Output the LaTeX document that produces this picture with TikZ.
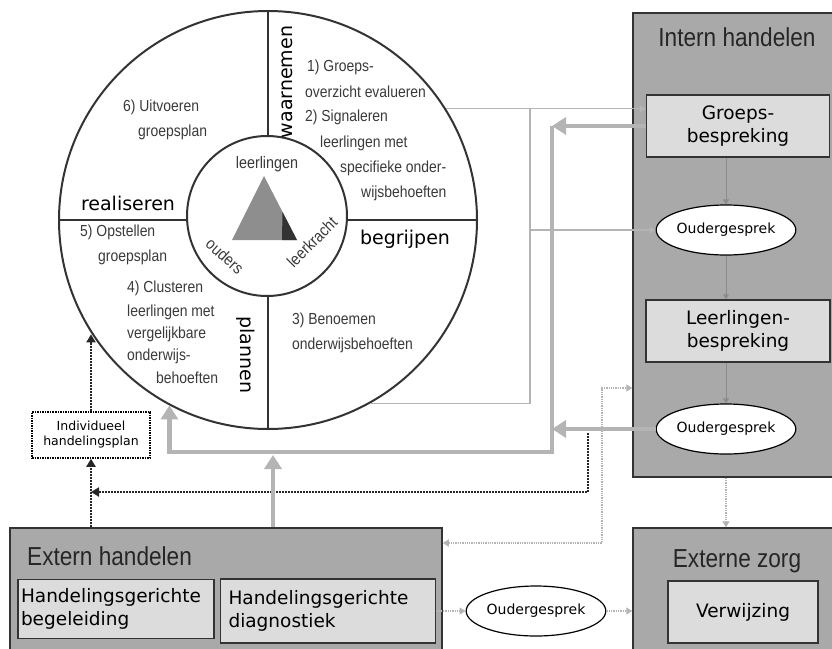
\documentclass[tikz,border=0pt]{standalone}
\usepackage{fontspec}
\setmainfont{Liberation Sans}
\newfontfamily\comic{DejaVu Sans}
\newfontfamily\narrow[FakeStretch=0.87]{Liberation Sans}
\usepackage{tikz}
\usetikzlibrary{shapes.geometric,arrows.meta}
\definecolor{panelgrey}{HTML}{A9A9A9}
\definecolor{boxgrey}{HTML}{DCDCDC}
\definecolor{linegrey}{HTML}{333333}
\definecolor{textgrey}{HTML}{3A3A3A}
\definecolor{flowgrey}{HTML}{B4B4B4}
\definecolor{innergrey}{HTML}{8C8C8C}
\definecolor{trigrey}{HTML}{8E8E8E}

\tikzset{
  panel/.style={draw=linegrey,fill=panelgrey,line width=1.5pt,inner sep=0pt},
  head/.style={inner sep=0pt,text=black!85,font=\narrow\fontsize{26}{30}\selectfont},
  subbox/.style={draw=linegrey,fill=boxgrey,line width=1.5pt,align=center,inner sep=0pt,
    font=\comic\fontsize{18.5}{23}\selectfont},
  talk/.style={ellipse,draw=black,fill=white,line width=1.2pt,inner sep=0pt,
    minimum width=125pt,minimum height=50pt,font=\comic\fontsize{14}{16}\selectfont},
  plan/.style={draw=black,densely dotted,line width=1.5pt,fill=white,align=center,inner sep=0pt,
    minimum width=118pt,minimum height=46pt,font=\comic\fontsize{12.5}{15}\selectfont},
  quad/.style={anchor=west,inner sep=0pt,text=textgrey,font=\narrow\fontsize{16}{18}\selectfont},
  phase/.style={inner sep=0pt,font=\comic\fontsize{19}{21}\selectfont},
  hubtext/.style={inner sep=0pt,text=textgrey,font=\narrow\fontsize{16.5}{18}\selectfont},
  thinflow/.style={draw=flowgrey,line width=1.2pt},
  tiparrow/.style={-{Triangle[width=7pt,length=6pt]}},
  innerflow/.style={draw=innergrey,line width=1pt,-{Triangle[width=6pt,length=5pt]}},
  thickflow/.style={draw=flowgrey,line width=4.5pt},
  bigarrow/.style={-{Triangle[width=17pt,length=14pt]}},
  darkdot/.style={draw=black!85,line width=2pt,densely dotted},
  darktip/.style={-{Triangle[width=9pt,length=8pt]}},
  lightdot/.style={draw=flowgrey,line width=1.3pt,densely dotted}
}

\begin{document}
\begin{tikzpicture}[x=1pt,y=-1pt]
\useasboundingbox (0,0) rectangle (832,648);
\clip (0,0) rectangle (832,648);

% panels
\node[panel,minimum width=212pt,minimum height=464pt] (intern) at (739,245) {};
\node[panel,minimum width=212pt,minimum height=142pt] (zorg) at (739,599) {};
\node[panel,minimum width=432pt,minimum height=142pt] (extern) at (226,599) {};
\node[head] (interntitle) at (737,37) {Intern handelen};
\node[head] (zorgtitle) at (737,561) {Externe zorg};
\node[head,anchor=west] (externtitle) at (27,556) {Extern handelen};

% boxes
\node[subbox,minimum width=183pt,minimum height=62pt] (groeps) at (738,126) {Groeps-\\bespreking};
\node[subbox,minimum width=184pt,minimum height=62pt] (llbespr) at (738,331) {Leerlingen-\\bespreking};
\node[subbox,minimum width=150pt,minimum height=62pt] (verwijz) at (743,612) {Verwijzing};
\node[subbox,align=left,text width=190pt,inner xsep=3pt,minimum height=59pt] (begel) at (116,609) {Handelingsgerichte\\begeleiding};
\node[subbox,align=left,text width=199pt,inner xsep=8pt,minimum height=64pt] (diag) at (328,611) {Handelingsgerichte\\diagnostiek};

\node[talk] (ouder1) at (726,230) {Oudergesprek};
\node[talk] (ouder2) at (726,429) {Oudergesprek};
\node[talk,minimum width=115pt] (ouder3) at (536,611) {Oudergesprek};
\node[plan] (indiv) at (91,435) {Individueel\\handelingsplan};

% wheel
\node[circle,draw=linegrey,fill=white,line width=2pt,minimum size=418pt,inner sep=0pt] (wheel) at (268,220) {};
\draw[linegrey,line width=2pt] (wheel.north) -- (wheel.south) (wheel.west) -- (wheel.east);
\node[circle,draw=linegrey,fill=white,line width=2pt,minimum size=160pt,inner sep=0pt] (hub) at (267,216) {};
\fill[trigrey] (264,176) -- (297,240) -- (232,240) -- cycle;
\fill[linegrey] (282.5,212) -- (297,240) -- (282,240) -- cycle;
\node[hubtext] (leerl) at (267,164) {leerlingen};
\node[hubtext,rotate=-42] (ouders) at (225,256) {ouders};
\node[hubtext,rotate=45] (leerkr) at (312,242) {leerkracht};

\node[phase] (realis) at (128,203) {realiseren};
\node[phase] (begrip) at (405,239) {begrijpen};
\node[phase,rotate=90] (waarn) at (287,82) {waarnemen};
\node[phase,rotate=-90] (plann) at (246,355) {plannen};

\foreach \n/\x/\l in{
q1/{(307,67)}/{1) Groeps-},
q2/{(305,92)}/{overzicht evalueren},
q3/{(305,117)}/{2) Signaleren},
q4/{(320,143)}/{leerlingen met},
q5/{(340,168)}/{specifieke onder-},
q6/{(361,193)}/{wijsbehoeften},
q7/{(123,107)}/{6) Uitvoeren},
q8/{(138,132)}/{groepsplan},
q9/{(80,232)}/{5) Opstellen},
q10/{(98,257)}/{groepsplan},
q11/{(127,288)}/{4) Clusteren},
q12/{(127,312)}/{leerlingen met},
q13/{(127,334)}/{vergelijkbare},
q14/{(127,356)}/{onderwijs-},
q15/{(156,378)}/{behoeften},
q16/{(292,320)}/{3) Benoemen},
q17/{(292,345)}/{onderwijsbehoeften}
}
{
    \node[quad] (\n) at \x {\l};
}

% connectors
\coordinate (jx) at (530,0);
\coordinate (spine) at (552,452);
\coordinate (up) at (273,0);
\coordinate (dktop) at (588,433);
\coordinate (dk) at (588,492);
\coordinate (lt) at (602,543);
\coordinate (lttop) at (602,388);

\draw[thinflow,tiparrow] (wheel.32) -- (wheel.32 -| groeps.west);
\draw[thinflow] (wheel.-61) -| (wheel.32 -| jx);
\draw[thinflow,tiparrow] (ouder1.west -| jx) -- (ouder1.west);
\draw[innerflow] (ouder1.north |- groeps.south) -- (ouder1.north);
\draw[innerflow] (ouder1.south) -- (ouder1.south |- llbespr.north);
\draw[innerflow] (ouder2.north |- llbespr.south) -- (ouder2.north);

\draw[darkdot,darktip] (dktop) -- (dk) -- (dk -| indiv);
\draw[darkdot,darktip] (indiv |- extern.north) -- (indiv.south);
\draw[darkdot,darktip] (indiv.north) -- (indiv.north |- wheel.-147);

\draw[lightdot,{Triangle[width=7pt,length=6pt]}-{Triangle[width=7pt,length=6pt]}] (lt -| extern.east) -- (lt) -- (lttop) -- (lttop -| intern.west);
\draw[lightdot,tiparrow] (intern.south -| ouder2) -- (zorg.north -| ouder2);
\draw[lightdot,tiparrow] (diag.east) -- (ouder3.west);
\draw[lightdot,tiparrow] (ouder3.east) -- (ouder3.east -| zorg.west);

\draw[thickflow,bigarrow] (groeps.west) -- (groeps.west -| spine);
\draw[thickflow,bigarrow] (ouder2.west) -- (ouder2.west -| spine);
\draw[thickflow,bigarrow] (groeps.west -| spine) -- (spine) -| (wheel.-118);
\draw[thickflow,bigarrow,shorten >=3pt] (up |- extern.north) -- (up |- spine);
\end{tikzpicture}
\end{document}
